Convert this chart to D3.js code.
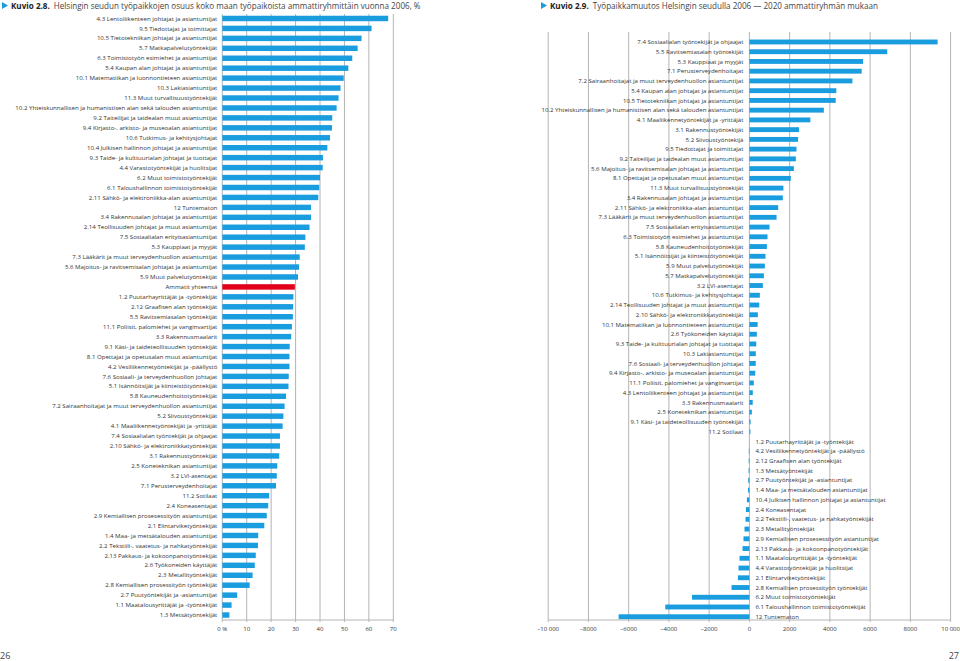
<!DOCTYPE html>
<html><head><meta charset="utf-8">
<script src="https://cdn.jsdelivr.net/npm/d3@7"></script>
<style>
body{margin:0;background:#fff;}
svg{display:block;font-family:"Open Sans",sans-serif;}
</style></head>
<body><svg id="c" width="960" height="661"></svg>
<script>
// ---------- Left chart (Kuvio 2.8) ----------
const leftCategories = [
"4.3 Lentoliikenteen johtajat ja asiantuntijat","9.5 Tiedottajat ja toimittajat","10.5 Tietotekniikan johtajat ja asiantuntijat","5.7 Matkapalvelutyöntekijät","6.3 Toimistotyön esimiehet ja asiantuntijat","5.4 Kaupan alan johtajat ja asiantuntijat","10.1 Matematiikan ja luonnontieteen asiantuntijat","10.3 Lakiasiantuntijat","11.3 Muut turvallisuustyöntekijät","10.2 Yhteiskunnallisen ja  humanistisen alan sekä talouden asiantuntijat","9.2 Taiteilijat ja taidealan muut asiantuntijat","9.4 Kirjasto-, arkisto- ja museoalan asiantuntijat","10.6 Tutkimus- ja kehitysjohtajat","10.4 Julkisen hallinnon johtajat ja asiantuntijat","9.3 Taide- ja kulttuurialan johtajat ja tuottajat","4.4 Varastotyöntekijät ja huolitsijat","6.2 Muut toimistotyöntekijät","6.1 Taloushallinnon toimistotyöntekijät","2.11 Sähkö- ja elektroniikka-alan asiantuntijat","12 Tuntematon","3.4 Rakennusalan johtajat ja asiantuntijat","2.14 Teollisuuden johtajat ja muut asiantuntijat","7.5 Sosiaalialan erityisasiantuntijat","5.3 Kauppiaat ja myyjät","7.3 Lääkärit ja muut terveydenhuollon asiantuntijat","5.6 Majoitus- ja ravitsemisalan johtajat ja asiantuntijat","5.9 Muut palvelutyöntekijät","Ammatit yhteensä","1.2 Puutarhayrittäjät ja -työntekijät","2.12 Graafisen alan työntekijät","5.5 Ravitsemiasalan työntekijät","11.1 Poliisit, palomiehet ja vanginvartijat","3.3 Rakennusmaalarit","9.1 Käsi- ja taideteollisuuden työntekijät","8.1 Opettajat ja opetusalan muut asiantuntijat","4.2 Vesiliikennetyöntekijät ja -päällystö","7.6 Sosiaali- ja terveydenhuollon johtajat","5.1 Isännöitsijät ja kiinteistötyöntekijät","5.8 Kauneudenhoitotyöntekijät","7.2 Sairaanhoitajat ja muut terveydenhuollon asiantuntijat","5.2 Siivoustyöntekijät","4.1 Maaliikennetyöntekijät ja -yrittäjät","7.4 Sosiaalialan työntekijät ja ohjaajat","2.10 Sähkö- ja elektroniikkatyöntekijät","3.1 Rakennustyöntekijät","2.5 Koneteknikan asiantuntijat","3.2 LVI-asentajat","7.1 Perusterveydenhoitajat","11.2 Sotilaat","2.4 Koneasentajat","2.9 Kemiallisen prosesessityön asiantuntijat","2.1 Elintarviketyöntekijät","1.4 Maa- ja metsätalouden asiantuntijat","2.2 Tekstiili-, vaatetus- ja nahkatyöntekijät","2.13 Pakkaus- ja kokoonpanotyöntekijät","2.6 Työkoneiden käyttäjät","2.3 Metallityöntekijät","2.8 Kemiallisen prosessityön työntekijät","2.7 Puutyöntekijät ja -asiantuntijat","1.1 Maatalousyrittäjät ja -työntekijät","1.3 Metsätyöntekijät"];
const leftValues = [67.9,61.1,57.0,55.4,53.2,51.6,49.7,48.4,47.6,46.8,45.0,44.9,44.1,43.0,41.2,41.1,40.0,39.7,39.3,36.3,36.3,35.7,34.0,33.8,31.7,31.4,31.0,29.7,29.1,29.0,28.9,28.5,28.2,27.6,27.5,27.5,27.2,27.1,26.1,25.5,25.0,24.7,23.6,23.6,23.3,22.5,22.3,22.0,19.2,18.8,18.2,17.2,14.7,14.6,13.7,13.3,12.4,11.2,6.1,3.8,2.9];
const leftHighlight = "Ammatit yhteensä";
const leftTicks = [0,10,20,30,40,50,60,70];
const leftTickLabels = ["0 %","10","20","30","40","50","60","70"];

// ---------- Right chart (Kuvio 2.9) ----------
const rightCategories = [
"7.4 Sosiaalialan työntekijät ja ohjaajat","5.5 Ravitsemiasalan työntekijät","5.3 Kauppiaat ja myyjät","7.1 Perusterveydenhoitajat","7.2 Sairaanhoitajat ja muut terveydenhuollon asiantuntijat","5.4 Kaupan alan johtajat ja asiantuntijat","10.5 Tietotekniikan johtajat ja asiantuntijat","10.2 Yhteiskunnallisen ja  humanistisen alan sekä talouden asiantuntijat","4.1 Maaliikennetyöntekijät ja -yrittäjät","3.1 Rakennustyöntekijät","5.2 Siivoustyöntekijä","9.5 Tiedottajat ja toimittajat","9.2 Taiteilijat ja taidealan muut asiantuntijat","5.6 Majoitus- ja ravitsemisalan johtajat ja asiantuntijat","8.1 Opettajat ja opetusalan muut asiantuntijat","11.3 Muut turvallisuustyöntekijät","3.4 Rakennusalan johtajat ja asiantuntijat","2.11 Sähkö- ja elektroniikka-alan asiantuntijat","7.3 Lääkärit ja muut terveydenhuollon asiantuntijat","7.5 Sosiaalialan erityisasiantuntijat","6.3 Toimistotyön esimiehet ja asiantuntijat","5.8 Kauneudenhoitotyöntekijät","5.1 Isännöitsijät ja kiinteistötyöntekijät","5.9 Muut palvelutyöntekijät","5.7 Matkapalvelutyöntekijät","3.2 LVI-asentajat","10.6 Tutkimus- ja kehitysjohtajat","2.14 Teollisuuden johtajat ja muut asiantuntijat","2.10 Sähkö- ja elektroniikkatyöntekijät","10.1 Matematiikan ja luonnontieteen asiantuntijat","2.6 Työkoneiden käyttäjät","9.3 Taide- ja kulttuurialan johtajat ja tuottajat","10.3 Lakiasiantuntijat","7.6 Sosiaali- ja terveydenhuollon johtajat","9.4 Kirjasto-, arkisto- ja museoalan asiantuntijat","11.1 Poliisit, palomiehet ja vanginvartijat","4.3 Lentoliikenteen johtajat ja asiantuntijat","3.3 Rakennusmaalarit","2.5 Koneteknikan asiantuntijat","9.1 Käsi- ja taideteollisuuden työntekijät","11.2 Sotilaat","1.2 Puutarhayrittäjät ja -työntekijät","4.2 Vesiliikennetyöntekijät ja -päällystö","2.12 Graafisen alan työntekijät","1.3 Metsätyöntekijät","2.7 Puutyöntekijät ja -asiantuntijat","1.4 Maa- ja metsätalouden asiantuntijat","10.4 Julkisen hallinnon johtajat ja asiantuntijat","2.4 Koneasentajat","2.2 Tekstiili-, vaatetus- ja nahkatyöntekijät","2.3 Metallityöntekijät","2.9 Kemiallisen prosesessityön asiantuntijat","2.13 Pakkaus- ja kokoonpanotyöntekijät","1.1 Maatalousyrittäjät ja -työntekijät","4.4 Varastotyöntekijät ja huolitsijat","2.1 Elintarviketyöntekijät","2.8 Kemiallisen prosessityön työntekijät","6.2 Muut toimistotyöntekijät","6.1 Taloushallinnon toimistotyöntekijät","12 Tuntematon"];
const rightValues = [9355,6850,5650,5580,5120,4320,4290,3700,3030,2470,2420,2340,2310,2210,2060,1690,1660,1430,1350,1000,900,870,800,770,720,670,520,490,420,410,370,340,320,315,290,220,170,165,120,60,50,-5,-30,-35,-40,-60,-70,-124,-174,-190,-243,-293,-342,-491,-541,-571,-888,-2854,-4180,-6500];
const rightTicks = [-10000,-8000,-6000,-4000,-2000,0,2000,4000,6000,8000,10000];
const rightTickLabels = ["–10 000","–8000","–6000","–4000","–2000","0","2000","4000","6000","8000","10 000"];

const BLUE = "#1a9ddf", RED = "#e3001b", GRID = "#b4b4b4", TXT = "#333";
const LABEL_FS = 6.1;
const svg = d3.select("#c");

function title(x, bold, rest){
  const g = svg.append("g");
  g.append("path").attr("d", `M${x},2 L${x+6},5.5 L${x},9 Z`).attr("fill", BLUE);
  const t = g.append("text").attr("x", x+9).attr("y", 9).attr("font-size", 8.1).attr("fill", "#444");
  t.append("tspan").attr("font-weight", "bold").attr("fill", "#222").text(bold);
  t.append("tspan").attr("dx", 4).text(rest);
}
title(2, "Kuvio 2.8.", "Helsingin seudun työpaikkojen osuus koko maan työpaikoista ammattiryhmittäin vuonna 2006, %");
title(541, "Kuvio 2.9.", "Työpaikkamuutos Helsingin seudulla 2006 — 2020 ammattiryhmän mukaan");

// ---------- Left ----------
const xL = d3.scaleLinear().domain([0,70]).range([222.3, 393.3]);
const yL = d3.scaleBand().domain(leftCategories).range([13.5, 620]).paddingInner(0.45).paddingOuter(0.225);
const gl = svg.append("g");
gl.selectAll("line.grid").data(leftTicks).join("line")
  .attr("x1", d=>xL(d)).attr("x2", d=>xL(d)).attr("y1", 14).attr("y2", 622)
  .attr("stroke", GRID).attr("stroke-width", 1);
gl.append("line").attr("x1", xL(0)).attr("x2", xL(70)).attr("y1", 620).attr("y2", 620).attr("stroke", GRID);
gl.selectAll("rect").data(leftCategories).join("rect")
  .attr("x", xL(0)).attr("y", d=>yL(d)).attr("height", yL.bandwidth())
  .attr("width", (d,i)=>xL(leftValues[i])-xL(0))
  .attr("fill", d=> d===leftHighlight ? RED : BLUE);
gl.selectAll("text.lab").data(leftCategories).join("text")
  .attr("x", xL(0)-5).attr("y", d=>yL(d)+yL.bandwidth()/2).attr("dy", "0.35em")
  .attr("text-anchor", "end").attr("font-size", LABEL_FS).attr("fill", TXT).text(d=>d);
gl.selectAll("text.tick").data(leftTicks).join("text")
  .attr("x", d=>xL(d)).attr("y", 631).attr("text-anchor", "middle")
  .attr("font-size", 6).attr("fill", TXT).text((d,i)=>leftTickLabels[i]);

// ---------- Right ----------
const xR = d3.scaleLinear().domain([-10000,10000]).range([548.2, 950.6]);
const yR = d3.scaleBand().domain(rightCategories).range([37.1, 621.6]).paddingInner(0.5).paddingOuter(0.25);
const gr = svg.append("g");
gr.selectAll("line.grid").data(rightTicks).join("line")
  .attr("x1", d=>xR(d)).attr("x2", d=>xR(d)).attr("y1", 32).attr("y2", 622)
  .attr("stroke", GRID).attr("stroke-width", 1);
gr.append("line").attr("x1", xR(-10000)).attr("x2", xR(10000)).attr("y1", 620).attr("y2", 620).attr("stroke", GRID);
gr.selectAll("rect").data(rightCategories).join("rect")
  .attr("x", (d,i)=>Math.min(xR(0), xR(rightValues[i]))).attr("y", d=>yR(d)).attr("height", yR.bandwidth())
  .attr("width", (d,i)=>Math.abs(xR(rightValues[i])-xR(0)))
  .attr("fill", BLUE);
const leftSide = (i)=> rightValues[i] >= 0 && i < 41;
gr.selectAll("text.lab").data(rightCategories).join("text")
  .attr("x", (d,i)=> leftSide(i) ? xR(0)-6 : xR(0)+6)
  .attr("y", d=>yR(d)+yR.bandwidth()/2).attr("dy", "0.35em")
  .attr("text-anchor", (d,i)=> leftSide(i) ? "end" : "start")
  .attr("font-size", LABEL_FS).attr("fill", TXT).text(d=>d);
gr.selectAll("text.tick").data(rightTicks).join("text")
  .attr("x", d=>xR(d)).attr("y", 631).attr("text-anchor", "middle")
  .attr("font-size", 6).attr("fill", TXT).text((d,i)=>rightTickLabels[i]);

// page numbers
svg.append("text").attr("x", 0).attr("y", 659).attr("font-size", 9).attr("fill", "#444").text("26");
svg.append("text").attr("x", 959).attr("y", 659).attr("text-anchor", "end").attr("font-size", 9).attr("fill", "#444").text("27");
</script></body></html>
